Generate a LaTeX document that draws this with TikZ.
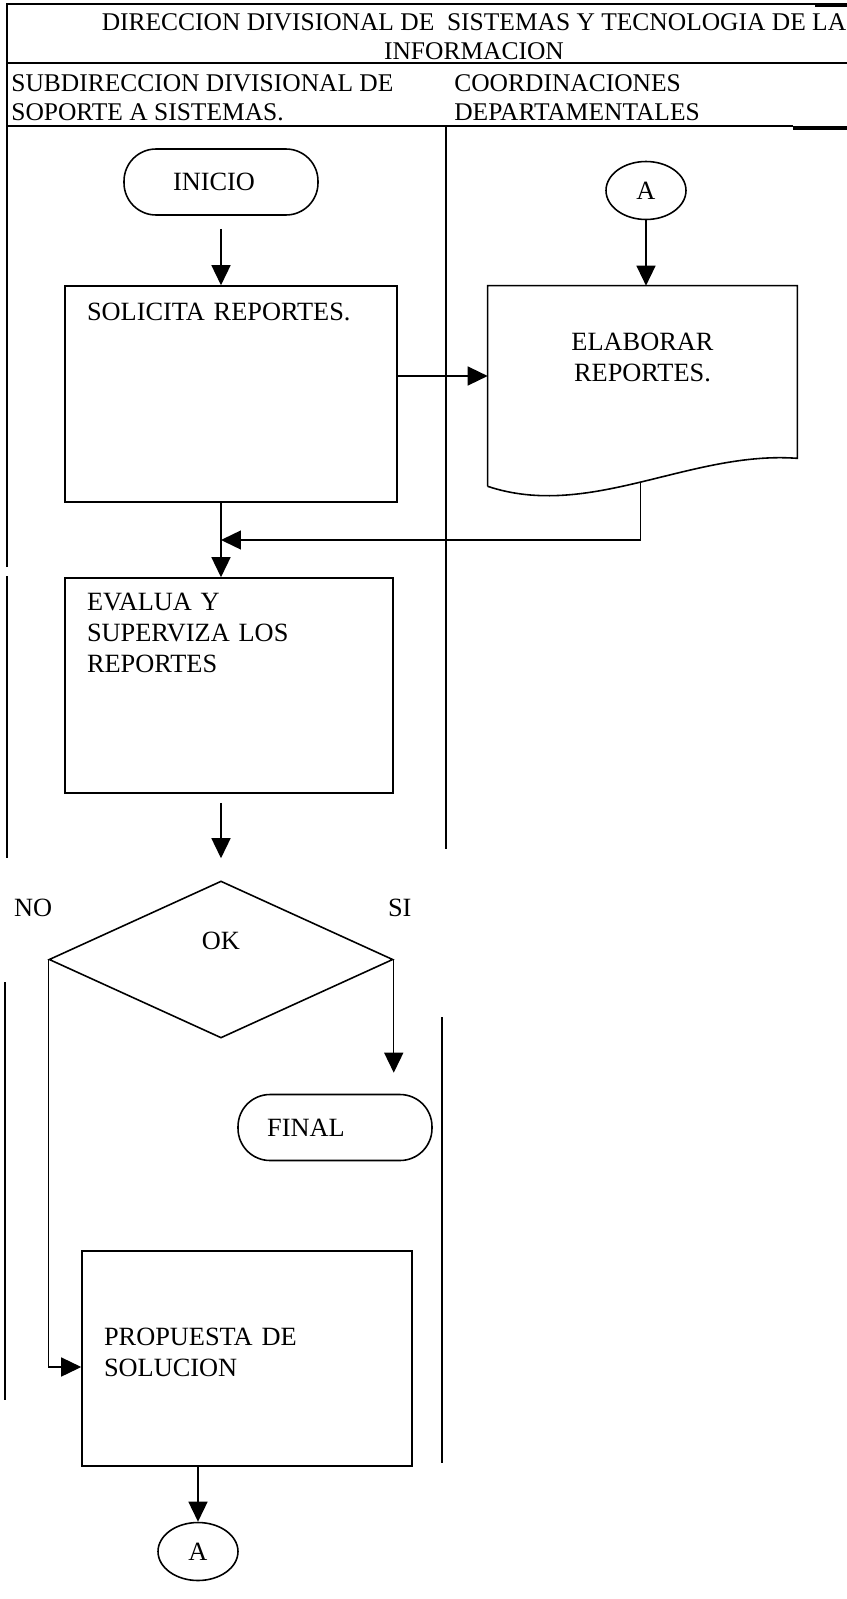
\documentclass[tikz,border=0pt]{standalone}
\usepackage{fontspec}
\setmainfont{Liberation Serif}
\usetikzlibrary{arrows.meta,shapes.geometric,calc}

\tikzset{
  linea/.style={line width=0.8pt},
  flecha/.style={line width=0.8pt, -{Triangle[length=0.4cm,width=0.38cm]}},
  caja/.style={draw, line width=0.9pt, rectangle, inner xsep=0.44cm, inner ysep=0pt, text width=5.76cm, align=left},
  terminal/.style={draw, line width=0.9pt, rectangle, rounded corners=0.64cm, minimum width=3.88cm, minimum height=1.32cm, inner sep=0pt},
  conector/.style={draw, line width=0.9pt, ellipse, minimum width=1.6cm, minimum height=1.16cm, inner sep=0pt},
  rotulo/.style={inner sep=0pt, font=\fontsize{14.5}{16.4}\selectfont}
}

\begin{document}
\begin{tikzpicture}[x=0.02cm, y=-0.02cm, font=\fontsize{15}{17.7}\selectfont]
  \useasboundingbox (0,0) rectangle (847,1599);

  % carriles
  \draw[linea] (7,567) -- (7,4) -- (847,4);
  \draw[linea] (7,576) -- (7,858);
  \draw[linea] (5,982) -- (5,1400);
  \draw[line width=2pt] (815,5) -- (847,5);
  \draw[linea] (7,63) -- (847,63);
  \draw[linea] (7,126) -- (793,126);
  \draw[line width=2pt] (793,128) -- (847,128);
  \draw[linea] (446,126) -- (446,849);
  \draw[linea] (442,1017) -- (442,1463);

  \node[rotulo, align=center] (titulo) at (474,36.3) {DIRECCION DIVISIONAL DE\ \ SISTEMAS Y TECNOLOGIA DE LA\\INFORMACION};
  \node[rotulo, anchor=west, align=left] (subdir) at (11,97.5) {SUBDIRECCION DIVISIONAL DE\\SOPORTE A SISTEMAS.};
  \node[rotulo, anchor=west, align=left] (coord) at (454,97.5) {COORDINACIONES\\DEPARTAMENTALES};

  \coordinate (eje) at (221,0);

  \node[terminal] (inicio) at (221,182) {INICIO\hspace*{0.28cm}};
  \node[caja, text width=5.76cm, text height=0.69cm, text depth=3.63cm] (solicita) at (231,394) {SOLICITA REPORTES.};
  \node[conector] (aarriba) at (646,190.5) {A};
  \node[text width=6.18cm, align=center, inner sep=0pt, text height=1.29cm, text depth=2.31cm] (elabora) at (642.5,376) {ELABORAR\\REPORTES.};
  \draw[line width=0.9pt] ($(elabora.south west)+(0,20)$) -- (elabora.north west) -- (elabora.north east)
    -- ($(elabora.south east)+(0,-8)$)
    .. controls ($(elabora.south east)+(-107,-16)$) and ($(elabora.south west)+(102,54)$) .. coordinate[pos=0.5] (pie) ($(elabora.south west)+(0,20)$);
  \node[caja, text width=5.68cm, text height=0.65cm, text depth=3.65cm] (evalua) at (229,685.5) {EVALUA Y\\SUPERVIZA LOS\\REPORTES};

  \coordinate (junta) at ($(solicita.south -| eje)!0.5!(evalua.north -| eje)$);

  \draw[flecha, shorten <=0.26cm] (inicio) -- (inicio |- solicita.north);
  \draw[flecha] (aarriba) -- (aarriba |- elabora.north);
  \draw[flecha] (solicita.east |- elabora.west) -- (elabora.west);
  \draw[flecha] (solicita.south -| eje) -- (evalua.north -| eje);
  \draw[flecha] (pie) |- (junta);

  \node[draw, line width=0.9pt, diamond, aspect=2.19, minimum width=6.88cm, minimum height=3.14cm, inner sep=0pt, text height=0.3cm, text depth=0.7cm] (decide) at (221,959.5) {OK};
  \node (no) at ($(decide.west)+(-15,-52)$) {NO};
  \node (si) at ($(decide.east)+(6,-52)$) {SI};
  \node[terminal] (final) at (335,1127.5) {FINAL\hspace*{1.16cm}};
  \node[caja, text width=5.72cm, text height=1.89cm, text depth=2.41cm] (propuesta) at (247,1358.5) {PROPUESTA DE\\SOLUCION};
  \node[conector] (aabajo) at (198,1551.5) {A};

  \draw[flecha, shorten <=0.18cm, shorten >=0.44cm] (evalua.south -| eje) -- (decide.north);
  \draw[flecha, shorten >=0.42cm] (decide.east) -- (decide.east |- final.north);
  \draw[flecha] (decide.west) |- ($(propuesta.west)+(0,8.5)$);
  \draw[flecha] (propuesta.south -| aabajo) -- (aabajo);
\end{tikzpicture}
\end{document}
